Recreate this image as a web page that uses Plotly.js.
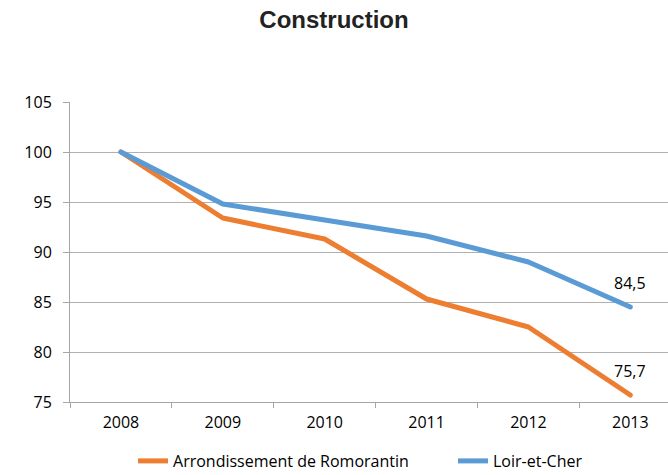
<!DOCTYPE html>
<html>
<head>
<meta charset="utf-8">
<script src="https://cdn.plot.ly/plotly-3.0.1.min.js"></script>
<style>html,body{margin:0;padding:0;background:#fff;}#chart{width:668px;height:475px;}
.scatterlayer path.js-line{stroke-linecap:round;stroke-linejoin:round;}</style>
</head>
<body>
<div id="chart"></div>
<script>
const years = ['2008', '2009', '2010', '2011', '2012', '2013'];
const romorantin = [100, 93.4, 91.3, 85.3, 82.5, 75.7];
const loirEtCher = [100, 94.8, 93.2, 91.6, 89.0, 84.5];
const seriesNames = ['Arrondissement de Romorantin', 'Loir-et-Cher'];
const yTicks = [75, 80, 85, 90, 95, 100, 105];

const fmt = v => v.toFixed(1).replace('.', ',');
const lastIdx = years.length - 1;

const traces = [
  {x: years, y: romorantin, name: seriesNames[0], type: 'scatter', mode: 'lines',
   line: {color: '#ED7D31', width: 5}, legend: 'legend'},
  {x: years, y: loirEtCher, name: seriesNames[1], type: 'scatter', mode: 'lines',
   line: {color: '#5B9BD5', width: 5}, legend: 'legend2'}
];

const legendStyle = {orientation: 'h', xanchor: 'left', y: -0.14, yanchor: 'top',
                     font: {size: 16}, bgcolor: 'rgba(0,0,0,0)'};

const layout = {
  width: 668, height: 475,
  margin: {l: 70, r: 0, t: 102, b: 73, autoexpand: false},
  paper_bgcolor: '#fff', plot_bgcolor: '#fff',
  font: {family: 'Open Sans, sans-serif', size: 16, color: '#000'},
  title: {text: '<b>Construction</b>', x: 0.5, xref: 'container', xanchor: 'center', y: 0.958, yanchor: 'middle',
          font: {family: 'Liberation Sans, Arial, sans-serif', size: 24, color: '#222'}},
  xaxis: {type: 'category', range: [-0.5, 5.37], tickson: 'boundaries', ticks: 'outside', ticklen: 5,
          tickcolor: '#a6a6a6', showline: true, linecolor: '#a6a6a6', linewidth: 1, showgrid: false,
          zeroline: false, tickfont: {size: 16}, tickangle: 0, automargin: false, ticklabelstandoff: 6},
  yaxis: {range: [75, 105], tickvals: yTicks, ticktext: yTicks.map(String), ticks: 'outside', ticklen: 6,
          tickcolor: '#a6a6a6', showline: true, linecolor: '#a6a6a6', linewidth: 1, automargin: false,
          showgrid: true, gridcolor: '#b0b0b0', gridwidth: 1, zeroline: false, tickfont: {size: 16},
          ticklabelstandoff: 8},
  legend: Object.assign({x: 0.1054}, legendStyle),
  legend2: Object.assign({x: 0.6405}, legendStyle),
  showlegend: true,
  annotations: [
    {x: lastIdx, y: loirEtCher[lastIdx], text: fmt(loirEtCher[lastIdx]), showarrow: false, yshift: 24, font: {size: 16}},
    {x: lastIdx, y: romorantin[lastIdx], text: fmt(romorantin[lastIdx]), showarrow: false, yshift: 24, font: {size: 16}}
  ]
};

Plotly.newPlot('chart', traces, layout, {displayModeBar: false, staticPlot: true});
</script>
</body>
</html>
